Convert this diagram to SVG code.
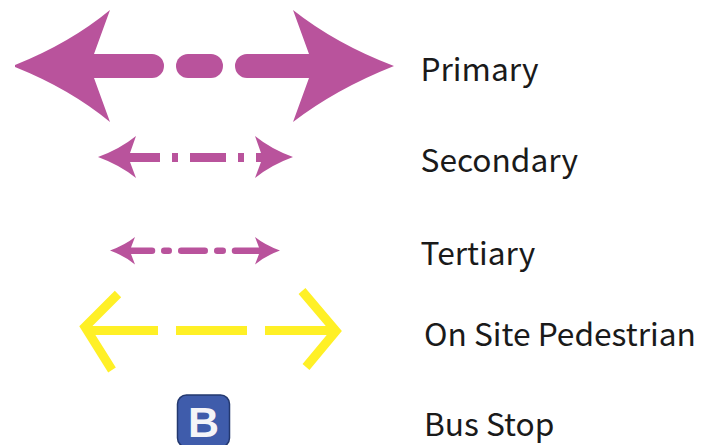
<svg xmlns="http://www.w3.org/2000/svg" width="702" height="445" viewBox="0 0 702 445">
<style>
.l{font-family:"Noto Sans CJK SC","Noto Sans",sans-serif;font-size:31.7px;fill:#1a1a1a}
.m{fill:#b9539c}
.y{stroke:#fff026;stroke-width:9;fill:none}
</style>
<rect width="702" height="445" fill="#fff"/>
<g id="connectors">
<g id="primary-line">
<path class="m" d="M15 65Q70 43 110 10L94 54H152A12 12 0 0 1 152 78H94L110 122Q70 89 15 67Z"/>
<rect class="m" x="176" y="54" width="47" height="24" rx="12"/>
<path class="m" d="M394 66Q336 44 293 10L309 54H247A12 12 0 0 0 247 78H309L293 122Q336 89 394 66Z"/>
</g>
<g id="secondary-line">
<path class="m" d="M98 157Q120 149 136 136L130 153H160V162H130L136 178Q120 165 98 157Z"/>
<rect class="m" x="172" y="153" width="6" height="9"/>
<rect class="m" x="190" y="153" width="36" height="9"/>
<rect class="m" x="238" y="153" width="6" height="9"/>
<path class="m" d="M293 157Q271 149 255 136L261 153H256V162H261L255 178Q271 165 293 157Z"/>
</g>
<g id="tertiary-line">
<path class="m" d="M110 250.500Q125 245 135 237L131 247.500H152A3.200 3.200 0 0 1 152 254H131L135 264.500Q125 256 110 250.500Z"/>
<rect class="m" x="161" y="247.500" width="11" height="6.500" rx="3.200"/>
<rect class="m" x="178" y="247.500" width="30" height="6.500" rx="3.200"/>
<rect class="m" x="214" y="247.500" width="12" height="6.500" rx="3.200"/>
<path class="m" d="M280 250.500Q265 245 255 237L259 247.500H235A3.200 3.200 0 0 0 235 254H259L255 264.500Q265 256 280 250.500Z"/>
</g>
<g id="pedestrian-line">
<path class="y" d="M118 294L85 327L112 370M85 330.500H158"/>
<path class="y" d="M176 330.500H247"/>
<path class="y" d="M265 330.500H336M302 291L336 331L306 367"/>
</g>
</g>
<g id="bus-stop"><rect x="177.500" y="395" width="52" height="52" rx="9" fill="#3f5cab" stroke="#23386f" stroke-width="1.500"/>
<text x="203.500" y="437" text-anchor="middle" font-family="Liberation Sans,Arial,sans-serif" font-weight="700" font-size="43" fill="#f4f4f8">B</text></g>
<g id="legend-primary"><text class="l" x="420.500" y="81">Primary</text></g>
<g id="legend-secondary"><text class="l" x="420.500" y="172">Secondary</text></g>
<g id="legend-tertiary"><text class="l" x="420.500" y="265">Tertiary</text></g>
<g id="legend-pedestrian"><text class="l" x="424" y="346">On Site Pedestrian</text></g>
<g id="legend-bus"><text class="l" x="424" y="436">Bus Stop</text></g>
</svg>
